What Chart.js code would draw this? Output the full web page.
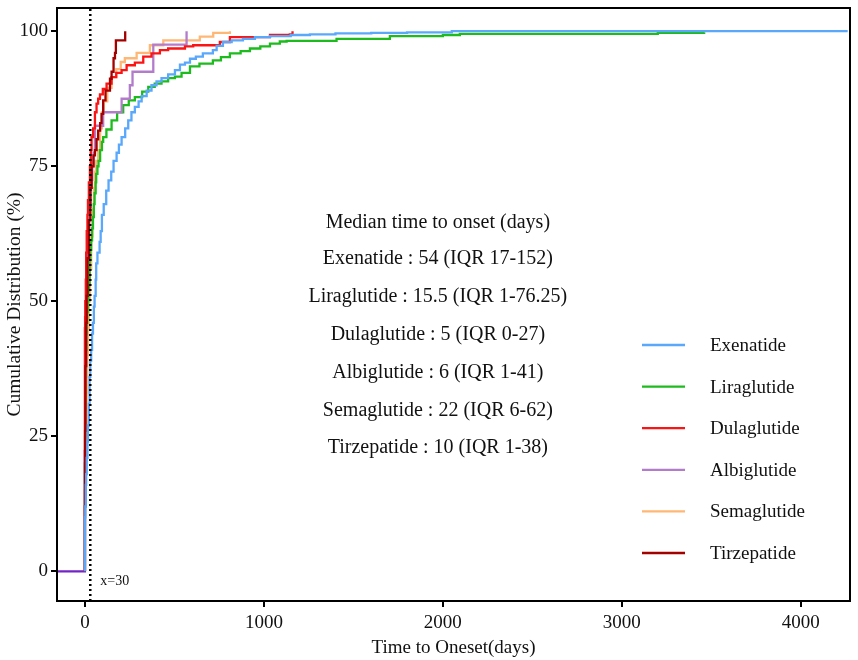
<!DOCTYPE html>
<html>
<head>
<meta charset="utf-8">
<script src="https://cdn.jsdelivr.net/npm/chart.js@4.4.1/dist/chart.umd.min.js"></script>
<style>
html,body{margin:0;padding:0;background:#fff;}
#wrap{width:858px;height:660px;}
</style>
</head>
<body>
<div id="wrap"><canvas id="c" width="858" height="660"></canvas></div>
<script>
// ---------- DATA ----------
const drugNames = ['Exenatide','Liraglutide','Dulaglutide','Albiglutide','Semaglutide','Tirzepatide'];
const medianTitle = 'Median time to onset (days)';
const medianLines = [
  'Exenatide : 54 (IQR 17-152)',
  'Liraglutide : 15.5 (IQR 1-76.25)',
  'Dulaglutide : 5 (IQR 0-27)',
  'Albiglutide : 6 (IQR 1-41)',
  'Semaglutide : 22 (IQR 6-62)',
  'Tirzepatide : 10 (IQR 1-38)'
];
const xTicks = [0,1000,2000,3000,4000];
const yTicks = [0,25,50,75,100];
const cutoffDay = 30;

const exenatideDays = [0,0,2,5,7,10,14,17,22,26,30,35,40,45,50,54,60,63,70,82,88,95,105,119,132,147,160,177,190,205,225,242,260,279,300,317,345,372,400,428,465,503,531,559,587,620,659,715,736,771,820,883,950,1034,1150,1257,1400,1600,1800,2050,4262];
const exenatidePct  = [0,10,12,16,18,21,24,27,31,36,39,41,44,46,49,51,54,57,59,61,63,66,68,70.5,72.4,74,76,77.5,79,80.4,82,83.5,85,86,87,88,89,90,90.7,91.3,92,92.8,93.8,94.2,94.9,95.3,95.9,96.5,97.3,98,98.3,98.6,98.9,99.1,99.3,99.4,99.6,99.7,99.8,100,100];

const liraglutideDays = [0,0,1,2,4,6,8,10,13,15.5,19,22,26,30,35,40,45,50,54,60,63,70,76,85,95,102,120,149,180,214,245,279,320,354,390,428,465,503,540,587,640,715,760,810,870,922,980,1034,1089,1127,1406,1704,2000,2095,3201,3460];
const liraglutidePct  = [0,20,25,30,36,41,44,46,48,50,52,53,57.6,59.5,61.3,63.5,65.6,68,70,72,73.6,75,76,78,79.5,80.4,81.8,83.5,85,86.3,87.2,87.8,88.8,89.7,90.3,90.7,91.3,91.6,92.3,93.5,94,94.6,95.2,95.9,96.3,96.8,97.2,97.7,98.1,98.2,98.6,99.1,99.3,99.5,99.7,99.8];

const dulaglutideDays = [0,0,1,2,5,7,10,14,17,22,28,33,37,46,56,65,74,84,100,121,149,175,205,233,279,326,372,419,465,559,605,754,810,1034,1145,1160];
const dulaglutidePct  = [0,45,47,50,54,59,63,66,68.7,72,75,78,80.4,82,85,86.6,87.5,88.3,89.3,90.3,91.5,92.3,92.8,93.7,94.2,95.3,95.9,96.5,96.8,97.2,97.4,98,98.9,99.3,99.4,100];

const albiglutideDays = [-160,0,1,2,4,6,10,17,25,33,41,48,56,102,205,251,266,382,568];
const albiglutidePct  = [0,22.5,27.5,35,42.5,50,57.5,62.5,67.5,72.5,75,77.5,82.5,85,87.5,90,92.5,97.5,100];

const semaglutideDays = [0,0,2,6,10,14,18,22,28,35,42,50,56,62,74,85,95,105,125,149,175,200,223,289,363,438,642,717,810];
const semaglutidePct  = [0,15,20,26,33,40,45,50,56,62,67,71,74,76,78,82,85,87,89.5,91.5,93,94.3,95,96,97.4,98.3,99,99.7,100];

const tirzepatideDays = [0,0,1,3,7,10,15,22,30,38,48,56,65,74,85,93,102,115,140,149,160,168,173,225,225];
const tirzepatidePct  = [0,12,26,38,46,51,58,65,71,75,77,78,80,81.6,83,84.7,87.2,89,91.2,92.5,95,96,98.3,98.3,100];

// ---------- BUILD ----------
const seriesDays = [exenatideDays, liraglutideDays, dulaglutideDays, albiglutideDays, semaglutideDays, tirzepatideDays];
const seriesPct  = [exenatidePct, liraglutidePct, dulaglutidePct, albiglutidePct, semaglutidePct, tirzepatidePct];
const colors = ['#59a8fb','#1dbb1d','#fb1414','#b37ccb','#ffb775','#a30000'];
const drawOrder = [1,5,3,4,6,2];
const serif = "'Liberation Serif','Times New Roman',serif";
const X_MIN = -156, X_MAX = 4275, Y_MIN = -5.5, Y_MAX = 104.3;

const datasets = drugNames.map((name,i)=>({
  label: name,
  data: seriesDays[i].map((d,j)=>({x:d, y:seriesPct[i][j]})),
  borderColor: colors[i],
  backgroundColor: colors[i],
  borderWidth: 2.3,
  pointRadius: 0,
  stepped: true,
  fill: false,
  order: drawOrder[i],
  segment: { borderColor: c => (c.p0.parsed.x < 0 && c.p0.parsed.y === 0) ? '#7424c4' : undefined }
}));
datasets.push({
  label: 'cutoff',
  data: [{x:cutoffDay, y:Y_MIN},{x:cutoffDay, y:Y_MAX}],
  borderColor: '#000',
  borderWidth: 2.5,
  borderDash: [2,3],
  pointRadius: 0,
  fill: false,
  order: 0
});

const overlay = {
  id: 'overlay',
  afterDraw(chart){
    const {ctx, chartArea:a, scales:{x,y}} = chart;
    ctx.save();
    ctx.strokeStyle = '#000';
    ctx.lineWidth = 2;
    ctx.strokeRect(a.left, a.top, a.right - a.left, a.bottom - a.top);
    ctx.fillStyle = '#111';
    // x=30 label
    ctx.font = '14px ' + serif;
    ctx.textAlign = 'left';
    ctx.textBaseline = 'middle';
    ctx.fillText('x=' + cutoffDay, x.getPixelForValue(cutoffDay) + 10, y.getPixelForValue(-1.85));
    // median block
    ctx.font = '20px ' + serif;
    ctx.textAlign = 'center';
    const cx = x.getPixelForValue(1972);
    ctx.fillText(medianTitle, cx, y.getPixelForValue(64.6));
    medianLines.forEach((t,i)=>{
      ctx.fillText(t, cx, y.getPixelForValue(57.8 - i*7.0));
    });
    // legend
    ctx.font = '19px ' + serif;
    ctx.textAlign = 'left';
    drugNames.forEach((n,i)=>{
      const yy = a.top + 337 + i*41.6;
      ctx.strokeStyle = colors[i];
      ctx.lineWidth = 2.3;
      ctx.beginPath();
      ctx.moveTo(a.left + 585, yy);
      ctx.lineTo(a.left + 628, yy);
      ctx.stroke();
      ctx.fillText(n, a.left + 653, yy + 1);
    });
    ctx.restore();
  }
};

function pinX(s){ s.height = 59; s.paddingLeft = 0; s.paddingRight = 0; }
function pinY(s){ s.width = 57; s.paddingTop = 0; s.paddingBottom = 0; }

new Chart(document.getElementById('c'), {
  type: 'line',
  data: { datasets },
  options: {
    responsive: false,
    animation: false,
    layout: { padding: { top: 8, right: 8, left: 0, bottom: 0 } },
    plugins: { legend: { display: false }, tooltip: { enabled: false } },
    scales: {
      x: {
        type: 'linear',
        min: X_MIN, max: X_MAX,
        afterFit: pinX,
        afterBuildTicks(s){ s.ticks = xTicks.map(v=>({value:v})); },
        grid: { drawOnChartArea: false, drawTicks: true, tickLength: 6, color: '#000', lineWidth: 2 },
        border: { display: false },
        ticks: { color: '#111', font: { family: serif, size: 19 }, padding: 5, maxRotation: 0, callback: v => String(v) },
        title: { display: true, text: 'Time to Oneset(days)', color: '#111', font: { family: serif, size: 19 }, padding: { top: 0, bottom: 1 } }
      },
      y: {
        type: 'linear',
        min: Y_MIN, max: Y_MAX,
        afterFit: pinY,
        afterBuildTicks(s){ s.ticks = yTicks.map(v=>({value:v})); },
        grid: { drawOnChartArea: false, drawTicks: true, tickLength: 6, color: '#000', lineWidth: 2 },
        border: { display: false },
        ticks: { color: '#111', font: { family: serif, size: 19 }, padding: 3, callback: v => String(v) },
        title: { display: true, text: 'Cumulative Distribution (%)', color: '#111', font: { family: serif, size: 19.5 }, padding: { top: 3, bottom: 0 } }
      }
    }
  },
  plugins: [overlay]
});
</script>
</body>
</html>
